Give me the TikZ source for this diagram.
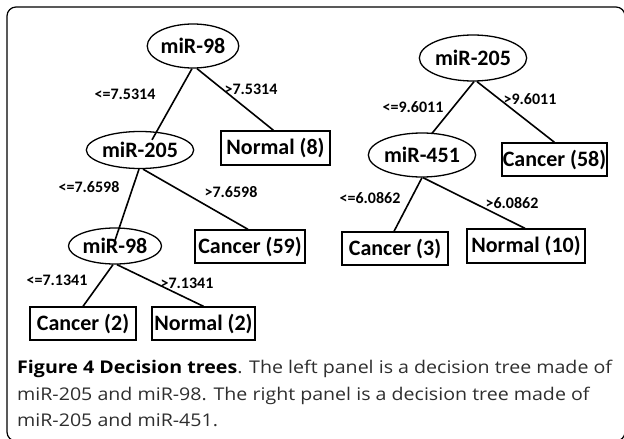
\documentclass[tikz,border=0pt]{standalone}
\usepackage{fontspec}
\setmainfont{Carlito}
\newfontfamily\capfont[FakeStretch=1.12]{Open Sans}
\usetikzlibrary{shapes.geometric}
\definecolor{capgray}{HTML}{2E2E2E}
\begin{document}
\begin{tikzpicture}[x=1pt,y=-1pt,
  split/.style={ellipse,draw,line width=1.3pt,inner sep=0pt,font=\fontsize{22}{22}\selectfont\bfseries},
  leaf/.style={rectangle,draw,line width=1.3pt,inner sep=0pt,font=\fontsize{22}{22}\selectfont\bfseries},
  cond/.style={inner sep=0pt,font=\fontsize{16}{16}\selectfont\bfseries},
  edge/.style={line width=1.6pt},
  capline/.style={anchor=base west,inner sep=0pt,font=\capfont\fontsize{17.5}{17.5}\selectfont}]
\useasboundingbox (0,0) rectangle (624,439);
\begin{scope}
\clip (0,0) rectangle (624,439);
\draw[line width=1.2pt,rounded corners=9pt] (7,7) rectangle (625,441);
\end{scope}

% left tree
\node[split,minimum width=89pt,minimum height=44pt] (A1) at (193,46) {miR-98};
\node[split,minimum width=89pt,minimum height=37pt] (A2) at (140,150) {miR-205};
\node[leaf,minimum width=109pt,minimum height=34pt] (A3) at (275.5,148) {Normal (8)};
\node[split,minimum width=93pt,minimum height=36pt] (A4) at (115,246) {miR-98};
\node[leaf,minimum width=110pt,minimum height=33pt] (A5) at (250,246.5) {Cancer (59)};
\node[leaf,minimum width=106pt,minimum height=33pt] (A6) at (83,323.5) {Cancer (2)};
\node[leaf,minimum width=103pt,minimum height=33pt] (A7) at (203.5,323.5) {Normal (2)};

\draw[edge] ([xshift=-1pt]A1.south) -- ([xshift=12pt,yshift=-9pt]A2.north);
\draw[edge] ([xshift=4pt]A1.south) -- ([xshift=-2pt]A3.north);
\draw[edge] ([xshift=-1pt]A2.south) -- ([yshift=-13pt]A4.north);
\draw[edge] ([xshift=3pt]A2.south) -- ([xshift=-2pt]A5.north);
\draw[edge] ([xshift=-2pt]A4.south) -- (A6.north);
\draw[edge] ([xshift=2pt]A4.south) -- (A7.north);

\node[cond] (l1) at (125,94) {<=7.5314};
\node[cond] (l2) at (251,89) {>7.5314};
\node[cond] (l3) at (89,187) {<=7.6598};
\node[cond] (l4) at (231,192) {>7.6598};
\node[cond] (l5) at (57,280) {<=7.1341};
\node[cond] (l6) at (187,283) {>7.1341};

% right tree
\node[split,minimum width=89pt,minimum height=46pt] (B1) at (473,58) {miR-205};
\node[split,minimum width=90pt,minimum height=44pt] (B2) at (422,155) {miR-451};
\node[leaf,minimum width=105pt,minimum height=33pt] (B3) at (554.5,159.5) {Cancer (58)};
\node[leaf,minimum width=106pt,minimum height=33pt] (B4) at (395,248.5) {Cancer (3)};
\node[leaf,minimum width=118pt,minimum height=34pt] (B5) at (526,246) {Normal (10)};

\draw[edge] ([xshift=1pt]B1.south) -- ([xshift=10pt,yshift=-1pt]B2.north);
\draw[edge] ([xshift=4pt]B1.south) -- (B3.north);
\draw[edge] (B2.south) -- ([xshift=-1pt]B4.north);
\draw[edge] ([xshift=1pt]B2.south) -- ([xshift=-1pt]B5.north);

\node[cond] (r1) at (413,107) {<=9.6011};
\node[cond] (r2) at (530,99) {>9.6011};
\node[cond] (r3) at (370,198) {<=6.0862};
\node[cond] (r4) at (512,203) {>6.0862};

% caption
\node[capline] (c1) at (17,373) {\textbf{Figure 4 Decision trees}\textcolor{capgray}{. The left panel is a decision tree made of}};
\node[capline,text=capgray] (c2) at (17,400) {miR-205 and miR-98. The right panel is a decision tree made of};
\node[capline,text=capgray] (c3) at (17,426) {miR-205 and miR-451.};
\end{tikzpicture}
\end{document}
